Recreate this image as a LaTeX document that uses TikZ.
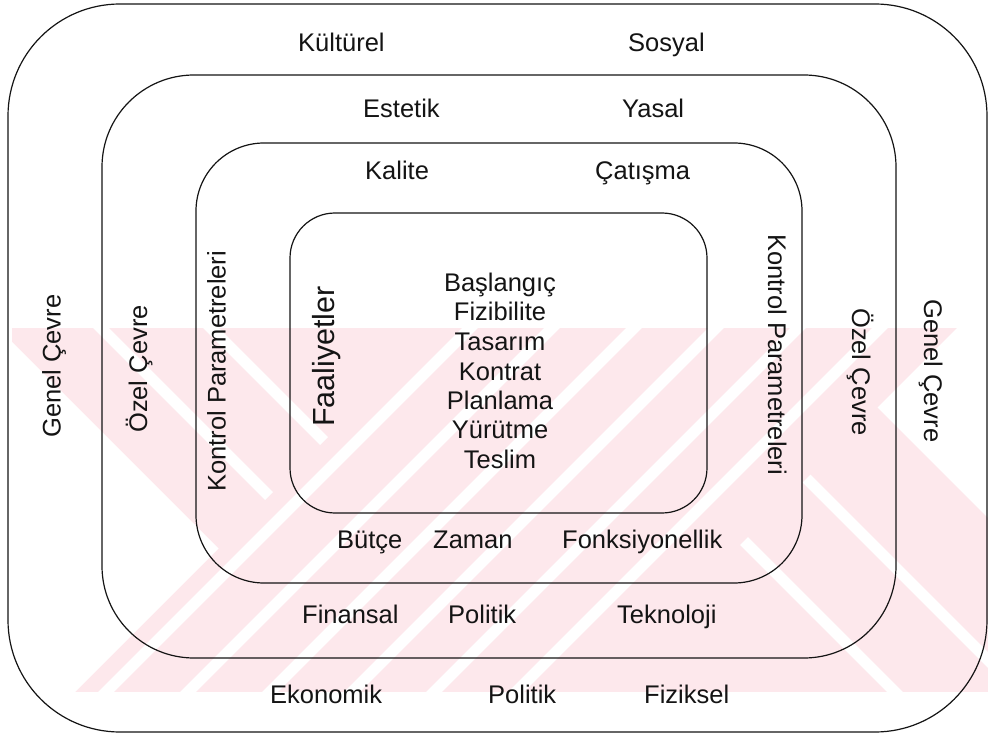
\documentclass[tikz,border=0pt]{standalone}
\usepackage{fontspec}
\setmainfont{Liberation Sans}
\definecolor{wmpink}{RGB}{253,232,236}
\definecolor{ink}{RGB}{20,20,20}
\begin{document}
\begin{tikzpicture}[x=1pt,y=-1pt,
  frame/.style={draw=ink,line width=1.2pt},
  gap/.style={draw=white,line width=11pt},
  lbl/.style={inner sep=0pt,text=ink,font=\fontsize{25.5}{29.3}\selectfont,anchor=base west},
  act/.style={inner sep=0pt,text=ink,font=\fontsize{25.5}{29.3}\selectfont,anchor=base},
  big/.style={inner sep=0pt,text=ink,font=\fontsize{30.5}{34}\selectfont,anchor=base west}]
\useasboundingbox (0,0) rectangle (988,735);
\fill[white] (0,0) rectangle (988,735);

% pale striped band behind the lower half
\begin{scope}
  \clip (12,328) rectangle (988,692);
  \fill[wmpink] (12,328) rectangle (988,692);
  % rising stripes (x+y = const)
  \draw[gap] (478,320) -- (98,700);
  \draw[gap] (560,320) -- (180,700);
  \draw[gap] (642,320) -- (262,700);
  \draw[gap] (724,320) -- (344,700);
  \draw[gap] (806,320) -- (426,700);
  \draw[gap] (888,320) -- (508,700);
  % falling stripes, upper left wedge
  \begin{scope}
    \clip (0,320) -- (445,320) -- (0,765) -- cycle;
    \draw[gap] (93,320) -- (473,700);
    \draw[gap] (203,320) -- (583,700);
  \end{scope}
  % falling stripes, lower right wedge
  \begin{scope}
    \clip (1000,285) -- (1000,700) -- (585,700) -- cycle;
    \draw[gap] (523,320) -- (903,700);
    \draw[gap] (648,320) -- (1028,700);
  \end{scope}
  % empty corners of the band
  \fill[white] (0,330) -- (218.5,548.5) -- (67,700) -- (0,700) -- cycle;
  \fill[white] (965,320) -- (877.5,407.5) -- (1000,530) -- (1000,320) -- cycle;
\end{scope}

% nested rounded frames
\draw[frame,rounded corners=112pt] (8,4) rectangle (987,732);
\draw[frame,rounded corners=92pt] (102,75) rectangle (896,658);
\draw[frame,rounded corners=68pt] (196,143) rectangle (802,583);
\draw[frame,rounded corners=45pt] (290,213) rectangle (707,513);

% top labels
\node[lbl] (kulturel) at (298,52) {Kültürel};
\node[lbl] (sosyal) at (628,52) {Sosyal};
\node[lbl] (estetik) at (363,118) {Estetik};
\node[lbl] (yasal) at (622,118) {Yasal};
\node[lbl] (kalite) at (365,180) {Kalite};
\node[lbl] (catisma) at (595,180) {Çatışma};

% bottom labels
\node[lbl] (butce) at (337,548) {Bütçe};
\node[lbl] (zaman) at (433,548) {Zaman};
\node[lbl] (fonk) at (562,548) {Fonksiyonellik};
\node[lbl] (finansal) at (302,623) {Finansal};
\node[lbl] (politikA) at (448,623) {Politik};
\node[lbl] (teknoloji) at (617,623) {Teknoloji};
\node[lbl] (ekonomik) at (270,703) {Ekonomik};
\node[lbl] (politikB) at (488,703) {Politik};
\node[lbl] (fiziksel) at (644,703) {Fiziksel};

% side labels, left (reading upwards)
\node[lbl,rotate=90] (genelL) at (60.5,438) {Genel Çevre};
\node[lbl,rotate=90] (ozelL) at (147,433) {Özel Çevre};
\node[lbl,rotate=90] (kontrolL) at (225.5,492) {Kontrol Parametreleri};
\node[big,rotate=90] (faaliyet) at (334,427) {Faaliyetler};

% side labels, right (reading downwards)
\node[lbl,rotate=-90] (kontrolR) at (768,234) {Kontrol Parametreleri};
\node[lbl,rotate=-90] (ozelR) at (852,308) {Özel Çevre};
\node[lbl,rotate=-90] (genelR) at (924,299) {Genel Çevre};

% activities
\node[act] (act1) at (500,292) {Başlangıç};
\node[act] (act2) at (500,321) {Fizibilite};
\node[act] (act3) at (500,350) {Tasarım};
\node[act] (act4) at (500,380) {Kontrat};
\node[act] (act5) at (500,409) {Planlama};
\node[act] (act6) at (500,438) {Yürütme};
\node[act] (act7) at (500,468) {Teslim};
\end{tikzpicture}
\end{document}
